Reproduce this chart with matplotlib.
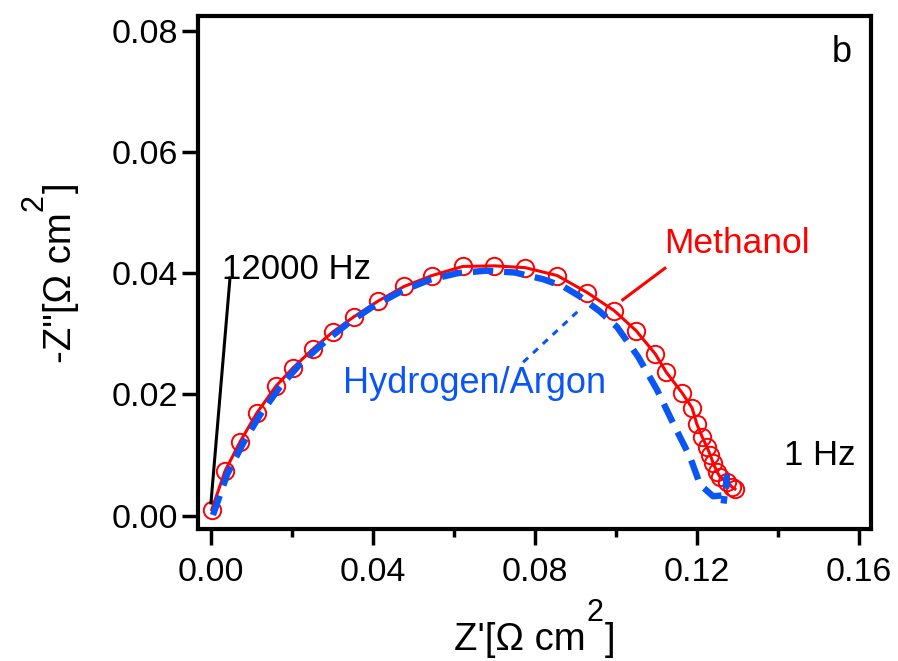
import matplotlib
matplotlib.use("Agg")
import matplotlib.pyplot as plt
from matplotlib.ticker import MultipleLocator, FormatStrFormatter

plt.rcParams['font.family'] = ['Liberation Sans', 'DejaVu Sans']

# Nyquist data: real and negative imaginary impedance (Ohm cm^2)
z_re_methanol = [0.0002, 0.0035, 0.0072, 0.0114, 0.0161, 0.0203, 0.0252, 0.0301,
                 0.0353, 0.0413, 0.0477, 0.0546, 0.0622, 0.0699, 0.0776, 0.0855,
                 0.0929, 0.0996, 0.1050, 0.1097, 0.1124, 0.1164, 0.1188, 0.1200,
                 0.1213, 0.1225, 0.1233, 0.1240, 0.1250, 0.1257, 0.1275, 0.1287,
                 0.1294]
z_im_methanol = [0.0010, 0.0074, 0.0122, 0.0170, 0.0214, 0.0244, 0.0275, 0.0303,
                 0.0328, 0.0354, 0.0378, 0.0396, 0.0411, 0.0412, 0.0409, 0.0396,
                 0.0368, 0.0338, 0.0305, 0.0267, 0.0237, 0.0202, 0.0178, 0.0151,
                 0.0130, 0.0113, 0.0100, 0.0087, 0.0072, 0.0064, 0.0056, 0.0047,
                 0.0044]

z_re_h2ar = [0.0005, 0.0040, 0.0080, 0.0120, 0.0170, 0.0220, 0.0280, 0.0340,
             0.0400, 0.0470, 0.0540, 0.0610, 0.0680, 0.0750, 0.0820, 0.0870,
             0.0910, 0.0960, 0.1003, 0.1055, 0.1102, 0.1146, 0.1183, 0.1208,
             0.1240, 0.1272, 0.1274, 0.1266]
z_im_h2ar = [0.0001, 0.0068, 0.0120, 0.0165, 0.0212, 0.0250, 0.0286, 0.0318,
             0.0345, 0.0370, 0.0389, 0.0400, 0.0404, 0.0401, 0.0390, 0.0378,
             0.0362, 0.0337, 0.0311, 0.0262, 0.0207, 0.0146, 0.0097, 0.0051,
             0.0032, 0.0034, 0.0064, 0.0020]

x_ticks = [0.00, 0.04, 0.08, 0.12, 0.16]
y_ticks = [0.00, 0.02, 0.04, 0.06, 0.08]

RED = '#ff0000'
BLUE = '#0a55f5'
W, H = 898, 661

fig = plt.figure(figsize=(W / 100, H / 100), dpi=100)
ax = fig.add_axes([198 / W, 1 - 529 / H, (871 - 198) / W, (529 - 16) / H])

ax.plot(z_re_methanol, z_im_methanol, color=RED, lw=2.2, zorder=3)
ax.plot(z_re_methanol, z_im_methanol, ls='none', marker='o', ms=12.5,
        mfc='none', mec=RED, mew=1.4, zorder=4)
ax.plot(z_re_h2ar, z_im_h2ar, color=BLUE, lw=4.6, dashes=(3.2, 1.7),
        dash_capstyle='butt', zorder=5)

ax.set_xlim(-0.0032, 0.163)
ax.set_ylim(-0.0022, 0.0824)
ax.set_xticks(x_ticks)
ax.set_yticks(y_ticks)
ax.xaxis.set_minor_locator(MultipleLocator(0.02))
ax.xaxis.set_major_formatter(FormatStrFormatter('%.2f'))
ax.yaxis.set_major_formatter(FormatStrFormatter('%.2f'))
for s in ax.spines.values():
    s.set_linewidth(3)
ax.tick_params(which='major', direction='out', length=11.5, width=2.5,
               labelsize=24.5, colors='black')
ax.tick_params(axis='x', which='major', pad=9)
ax.tick_params(axis='y', which='major', pad=3)
ax.tick_params(axis='x', which='minor', direction='out', length=6, width=2.5)

# annotations with pointer lines
ax.text(0.0027, 0.0391, '12000 Hz', fontsize=25, ha='left', va='baseline')
ax.plot([0.0047, 0.0000], [0.0392, 0.0021], color='black', lw=2.2, zorder=6)

ax.text(0.1120, 0.0433, 'Methanol', fontsize=25.5, color=RED, ha='left',
        va='baseline')
ax.plot([0.1121, 0.1017], [0.0408, 0.0356], color=RED, lw=2.2, zorder=6)

ax.text(0.0325, 0.0203, 'Hydrogen/Argon', fontsize=26, color=BLUE,
        ha='left', va='baseline')
ax.plot([0.0771, 0.0911], [0.0253, 0.0340], color=BLUE, lw=2.2,
        dashes=(2.2, 2.2), zorder=6)

ax.text(0.1416, 0.0083, '1 Hz', fontsize=25, ha='left', va='baseline')
ax.text(0.1533, 0.0748, 'b', fontsize=26, ha='left', va='baseline')

# axis titles with a raised "2" composed from separate pieces
renderer = fig.canvas.get_renderer()


def text_px(x, y, s, size, **kw):
    return fig.text(x / W, y / H, s, fontsize=size, **kw)


def width_of(t):
    return t.get_window_extent(renderer).width


gap = 1
raise_px = 29
title_size = 27.5
sup_size = 22

# x title (display pixel coordinates, origin bottom-left)
base_y = H - 650
a = text_px(0, base_y, "Z'[Ω cm", title_size, ha='left', va='baseline')
b = text_px(0, base_y + raise_px, '2', sup_size, ha='left', va='baseline')
c = text_px(0, base_y, ']', title_size, ha='left', va='baseline')
wa, wb, wc = width_of(a), width_of(b), width_of(c)
total = wa + gap + wb + gap + wc
x0 = (198 + 871) / 2 - total / 2
a.set_position((x0 / W, base_y / H))
b.set_position(((x0 + wa + gap) / W, (base_y + raise_px) / H))
c.set_position(((x0 + wa + gap + wb + gap) / W, base_y / H))

# y title, rotated
base_x = 71
kw = dict(rotation=90, rotation_mode='anchor', ha='left', va='baseline')
a = text_px(base_x, 0, '-Z"[Ω cm', title_size, **kw)
b = text_px(base_x - raise_px, 0, '2', sup_size, **kw)
c = text_px(base_x, 0, ']', title_size, **kw)
ha_, hb_, hc_ = (t.get_window_extent(renderer).height for t in (a, b, c))
total = ha_ + gap + hb_ + gap + hc_
y0 = H - (16 + 529) / 2 - total / 2
a.set_position((base_x / W, y0 / H))
b.set_position(((base_x - raise_px) / W, (y0 + ha_ + gap) / H))
c.set_position((base_x / W, (y0 + ha_ + gap + hb_ + gap) / H))

fig.savefig('out.png', dpi=100)
